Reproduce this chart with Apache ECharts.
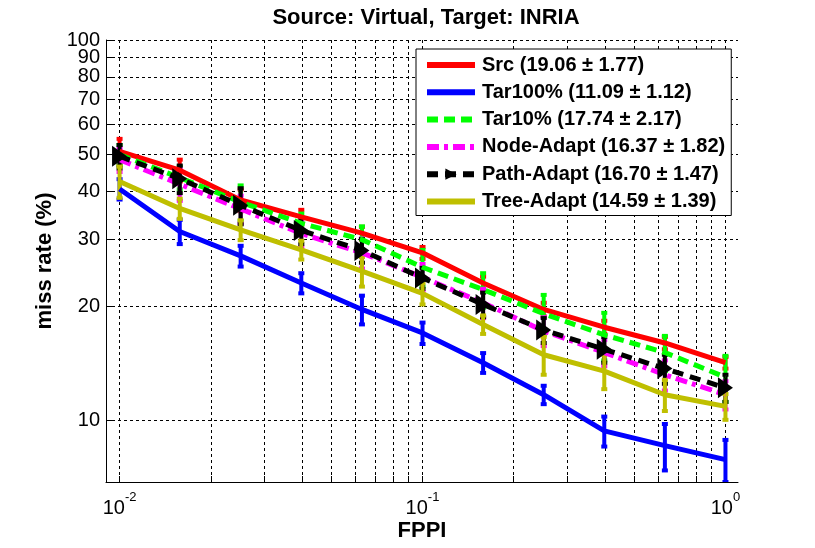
<!DOCTYPE html>
<html>
<head>
<meta charset="utf-8">
<script src="https://cdn.jsdelivr.net/npm/echarts@6/dist/echarts.min.js"></script>
<style>
html,body{margin:0;padding:0;background:#fff;}
#c{width:815px;height:548px;}
</style>
</head>
<body>
<div id="c"></div>
<script>
// ---- data ----
var fppi = [0.0100, 0.0158, 0.0251, 0.0398, 0.0631, 0.1000, 0.1585, 0.2512, 0.3981, 0.6310, 1.0000];
var seriesNames = ['Src (19.06 \u00b1 1.77)', 'Tar100% (11.09 \u00b1 1.12)', 'Tar10% (17.74 \u00b1 2.17)',
  'Node-Adapt (16.37 \u00b1 1.82)', 'Path-Adapt (16.70 \u00b1 1.47)', 'Tree-Adapt (14.59 \u00b1 1.39)'];
var src      = [51.0, 45.5, 38.0, 34.3, 31.1, 27.6, 23.0, 19.6, 17.6, 16.0, 14.2];
var tar100   = [40.6, 31.4, 27.1, 23.0, 19.6, 17.0, 14.2, 11.7, 9.4, 8.6, 7.9];
var tar10    = [50.0, 43.5, 37.5, 33.0, 29.9, 25.3, 22.1, 19.1, 16.8, 15.1, 13.0];
var nodeAd   = [48.5, 41.8, 36.0, 31.0, 27.6, 23.8, 20.4, 17.2, 15.1, 13.2, 11.7];
var pathAd   = [49.5, 43.2, 36.8, 31.6, 28.0, 23.7, 20.2, 17.3, 15.4, 13.7, 12.2];
var treeAd   = [42.5, 36.1, 31.7, 28.1, 24.7, 21.6, 17.9, 14.9, 13.5, 11.7, 10.9];
// error bar half-widths
var srcErr    = [4.0, 3.0, 2.5, 1.5, 1.2, 1.0, 0.9, 0.8, 0.7, 0.6, 0.5];
var tar100Err = [2.5, 2.3, 1.7, 1.4, 1.7, 1.1, 0.85, 0.65, 0.85, 1.2, 1.0];
var tar10Err  = [3.0, 3.0, 4.0, 2.0, 2.5, 2.8, 2.3, 2.3, 2.4, 1.6, 1.8];
var nodeErr   = [3.5, 4.0, 3.0, 2.5, 2.5, 2.0, 1.8, 1.5, 1.2, 1.2, 1.0];
var pathErr   = [3.5, 3.6, 4.0, 2.5, 2.0, 1.5, 1.5, 1.3, 1.2, 1.2, 1.0];
var treeErr   = [4.0, 2.2, 1.9, 1.6, 2.2, 1.4, 1.0, 1.7, 1.4, 1.1, 0.85];
var xTicks = [0.01,0.02,0.03,0.04,0.05,0.06,0.07,0.08,0.09,0.1,0.2,0.3,0.4,0.5,0.6,0.7,0.8,0.9,1];
var xLabels = [0.01, 0.1, 1];
var yTicks = [10,20,30,40,50,60,70,80,90,100];
var yLabelsMain = [10,20,30,40,50,60,70,80,100];
var yLabelsExtra = [90];

var FONT = "'Liberation Sans', Arial, sans-serif";
var colors = ['#ff0000', '#0000ff', '#00ff00', '#ff00ff', '#000000', '#bfbf00'];
var values = [src, tar100, tar10, nodeAd, pathAd, treeAd];
var errs = [srcErr, tar100Err, tar10Err, nodeErr, pathErr, treeErr];
var dashes = ['solid', 'solid', [11, 6], [12, 5, 4, 5], [11, 7], 'solid'];

function errSeries(i) {
  var vals = values[i], e = errs[i], color = colors[i];
  return {
    type: 'custom',
    name: 'err' + i,
    clip: true,
    encode: {x: 0, y: [1, 2]},
    data: fppi.map(function (x, k) { return [x, vals[k] - e[k], vals[k] + e[k]]; }),
    renderItem: function (params, api) {
      var x = api.value(0);
      var lo = api.coord([x, api.value(1)]);
      var hi = api.coord([x, api.value(2)]);
      var c = 3;
      var st = {stroke: color, lineWidth: 4};
      return {type: 'group', children: [
        {type: 'line', shape: {x1: lo[0], y1: lo[1], x2: hi[0], y2: hi[1]}, style: st},
        {type: 'line', shape: {x1: lo[0] - c, y1: lo[1], x2: lo[0] + c, y2: lo[1]}, style: st},
        {type: 'line', shape: {x1: hi[0] - c, y1: hi[1], x2: hi[0] + c, y2: hi[1]}, style: st}
      ]};
    }
  };
}
function lineSeries(i) {
  return {
    type: 'line',
    name: seriesNames[i],
    data: fppi.map(function (x, k) { return [x, values[i][k]]; }),
    showSymbol: i === 4,
    symbol: i === 4 ? 'triangle' : 'none',
    symbolSize: [21, 15],
    symbolRotate: -90,
    itemStyle: {color: colors[i]},
    lineStyle: {color: colors[i], width: 5, type: dashes[i]},
    emphasis: {disabled: true},
    animation: false,
    clip: true
  };
}
var series = [];
for (var i = 0; i < 6; i++) { series.push(errSeries(i)); series.push(lineSeries(i)); }

var legendData = seriesNames.map(function (n, i) {
  return i === 4 ? {name: n} : {name: n, itemStyle: {opacity: 0}};
});

var yLabelStyle = {fontFamily: FONT, fontSize: 20, color: '#000'};

var chart = echarts.init(document.getElementById('c'), null, {renderer: 'canvas'});
chart.setOption({
  animation: false,
  backgroundColor: '#ffffff',
  textStyle: {fontFamily: FONT},
  title: {
    text: 'Source: Virtual, Target: INRIA',
    left: 421, textAlign: 'center', top: 2,
    textStyle: {fontFamily: FONT, fontSize: 22, fontWeight: 'bold', color: '#000'}
  },
  legend: {
    data: legendData,
    orient: 'vertical',
    left: 416, top: 49,
    padding: [6, 6, 4, 8],
    itemWidth: 48, itemHeight: 14, itemGap: 7.3,
    lineStyle: {width: 6},
    borderColor: '#000', borderWidth: 1, backgroundColor: '#fff',
    textStyle: {fontFamily: FONT, fontSize: 20, fontWeight: 'bold', color: '#000', lineHeight: 20, padding: [0, 0, 0, 2]},
    selectedMode: false
  },
  grid: {left: 106, right: 77, top: 40, bottom: 66, containLabel: false, outerBoundsMode: 'none'},
  xAxis: {
    type: 'log', logBase: 10, min: 0.00902, max: 1.10,
    name: 'FPPI', nameLocation: 'middle', nameGap: 38, nameMoveOverlap: false,
    nameTextStyle: {fontFamily: FONT, fontSize: 22, fontWeight: 'bold', color: '#000'},
    axisLine: {show: true, onZero: false, lineStyle: {color: '#000', width: 1}},
    axisTick: {show: true, inside: true, length: 6, customValues: xTicks, lineStyle: {color: '#000'}},
    axisLabel: {
      customValues: xLabels, margin: 16, color: '#000',
      formatter: function (v) { return '{b|10}{s|' + Math.round(Math.log10(v)) + '}'; },
      rich: {
        b: {fontFamily: FONT, fontSize: 20, lineHeight: 20, color: '#000'},
        s: {fontFamily: FONT, fontSize: 13, lineHeight: 13, color: '#000', padding: [0, 0, 22, 0]}
      }
    },
    splitLine: {show: true, lineStyle: {color: '#000', width: 1, type: [3, 3]}},
    minorTick: {show: false}
  },
  yAxis: [{
    type: 'log', logBase: 10, min: 6.9, max: 100.02,
    name: 'miss rate (%)', nameLocation: 'middle', nameGap: 50, nameRotate: 90,
    nameTextStyle: {fontFamily: FONT, fontSize: 22, fontWeight: 'bold', color: '#000'},
    axisLine: {show: true, onZero: false, lineStyle: {color: '#000', width: 1}},
    axisTick: {show: true, inside: true, length: 6, customValues: yTicks, lineStyle: {color: '#000'}},
    axisLabel: Object.assign({customValues: yLabelsMain, margin: 6, showMaxLabel: true, showMinLabel: true,
      formatter: function (v) { return String(Math.round(v)); }}, yLabelStyle),
    splitLine: {show: true, lineStyle: {color: '#000', width: 1, type: [3, 3]}}
  }, {
    type: 'log', logBase: 10, min: 6.9, max: 100.02,
    position: 'left', offset: 0,
    axisLine: {show: false}, axisTick: {show: false}, splitLine: {show: false},
    axisLabel: Object.assign({customValues: yLabelsExtra, margin: 6, showMaxLabel: true, showMinLabel: true,
      formatter: function (v) { return String(Math.round(v)); }}, yLabelStyle)
  }],
  series: series
});
</script>
</body>
</html>
